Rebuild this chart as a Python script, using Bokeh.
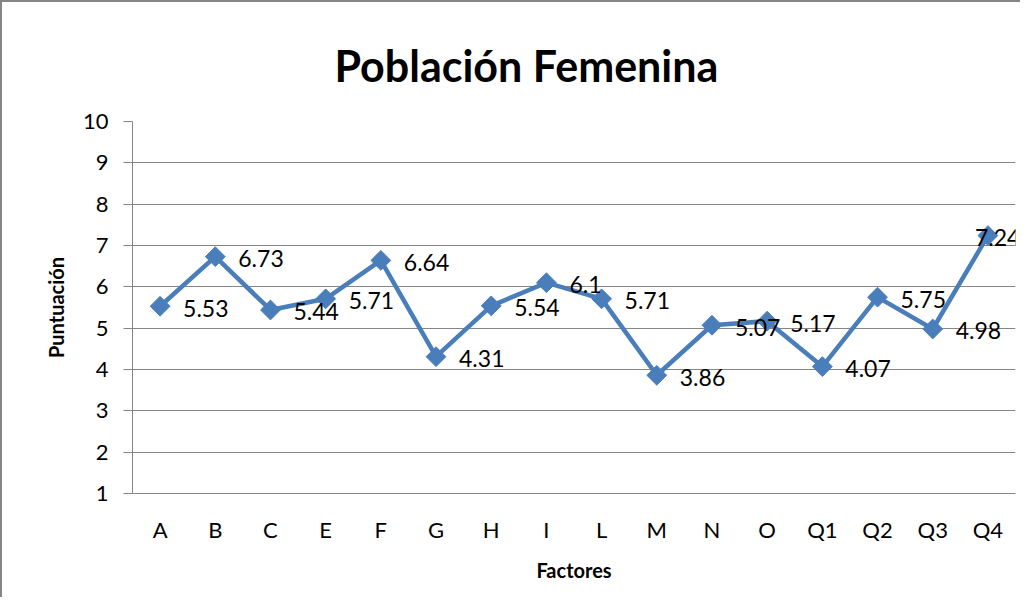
from bokeh.plotting import figure
from bokeh.models import ColumnDataSource, LabelSet, FixedTicker
from bokeh.core.properties import value
from bokeh.embed import file_html
from bokeh.resources import INLINE
import numpy as np

factors = ["A", "B", "C", "E", "F", "G", "H", "I", "L", "M", "N", "O", "Q1", "Q2", "Q3", "Q4"]
scores = [5.53, 6.73, 5.44, 5.71, 6.64, 4.31, 5.54, 6.1, 5.71, 3.86, 5.07, 5.17, 4.07, 5.75, 4.98, 7.24]
labels = ["5.53", "6.73", "5.44", "5.71", "6.64", "4.31", "5.54", "6.1", "5.71", "3.86", "5.07", "5.17", "4.07", "5.75", "4.98", "7.24"]
y_ticks = [1, 2, 3, 4, 5, 6, 7, 8, 9, 10]

FONT = "Lato"
BLUE = "#4A7EBB"
GRAY = "#868686"

# label offsets in pixels: to the right of each marker; the last one is pulled in to stay on the page
label_dx = [23] * (len(factors) - 1) + [-13]

src = ColumnDataSource(dict(x=factors, y=scores, lab=labels, dx=label_dx))

p = figure(x_range=factors, y_range=(1, 10),
           frame_width=883, frame_height=372,
           min_border_left=130, min_border_right=5,
           min_border_top=119, min_border_bottom=104,
           output_backend="svg", toolbar_location=None,
           title="Población Femenina")
p.styles = {"border-left": f"2px solid {GRAY}", "border-top": f"2px solid {GRAY}"}

p.title.text_font = FONT
p.title.text_font_size = "43px"
p.title.text_font_style = "bold"
p.title.text_color = "black"
p.title.align = "left"
p.title.offset = 202
p.title.standoff = 62

p.outline_line_color = None
p.background_fill_color = "white"
p.border_fill_color = "white"

p.xgrid.grid_line_color = None
p.ygrid.grid_line_color = GRAY
p.ygrid.grid_line_width = 1
p.ygrid.ticker = FixedTicker(ticks=y_ticks)

p.yaxis.ticker = FixedTicker(ticks=y_ticks)
p.yaxis.axis_line_color = GRAY
p.yaxis.major_tick_line_color = GRAY
p.yaxis.major_tick_out = 9
p.yaxis.major_tick_in = 0
p.yaxis.minor_tick_line_color = None
p.yaxis.major_label_standoff = 15
p.yaxis.major_label_text_font = FONT
p.yaxis.major_label_text_font_size = "22px"
p.yaxis.major_label_text_color = "black"
p.yaxis.axis_label = "Puntuación"
p.yaxis.axis_label_text_font = FONT
p.yaxis.axis_label_text_font_size = "20px"
p.yaxis.axis_label_text_font_style = "bold"
p.yaxis.axis_label_text_color = "black"
p.yaxis.axis_label_standoff = 12

p.xaxis.axis_line_color = GRAY
p.xaxis.major_tick_line_color = None
p.xaxis.major_tick_out = 0
p.xaxis.major_tick_in = 0
p.xaxis.minor_tick_line_color = None
p.xaxis.major_label_standoff = 22
p.xaxis.major_label_text_font = FONT
p.xaxis.major_label_text_font_size = "22px"
p.xaxis.major_label_text_color = "black"
p.xaxis.axis_label = "Factores"
p.xaxis.axis_label_text_font = FONT
p.xaxis.axis_label_text_font_size = "20px"
p.xaxis.axis_label_text_font_style = "bold"
p.xaxis.axis_label_text_color = "black"
p.xaxis.axis_label_standoff = 12

p.line("x", "y", source=src, line_color=BLUE, line_width=4.5)
p.scatter("x", "y", source=src, marker="square", angle=np.pi / 4, size=14,
          fill_color=BLUE, line_color=BLUE)

lbl = LabelSet(x="x", y="y", text="lab", source=src, x_offset="dx", y_offset=-2,
               text_font=value(FONT), text_font_size=value("23px"), text_color="black",
               text_baseline="middle", text_align="left")
p.add_layout(lbl)

open("out.html", "w").write(file_html(p, INLINE))
